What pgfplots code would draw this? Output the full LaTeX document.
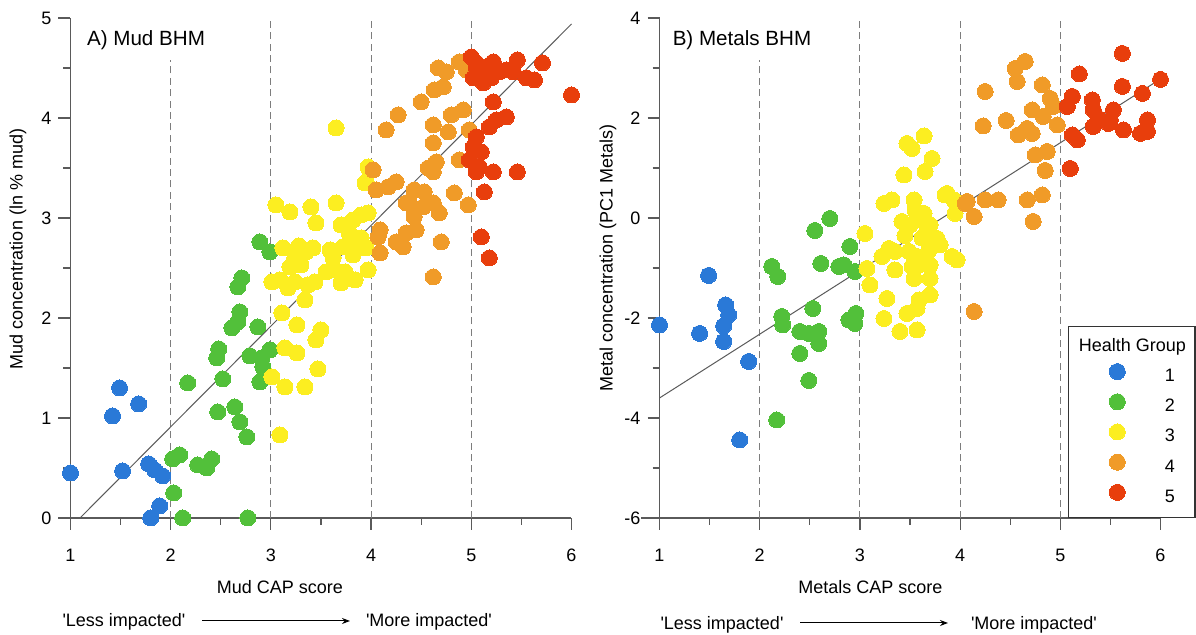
\documentclass[border=0pt]{standalone}
\usepackage{pgfplots}
\pgfplotsset{compat=1.18}
\usepackage{fontspec}
\setmainfont{Liberation Sans}
\usetikzlibrary{arrows.meta}
\definecolor{gA}{RGB}{42,121,215}
\definecolor{gB}{RGB}{82,192,58}
\definecolor{gC}{RGB}{252,238,33}
\definecolor{gD}{RGB}{240,155,40}
\definecolor{gE}{RGB}{232,62,12}
\definecolor{axgray}{RGB}{90,90,90}
\definecolor{dashgray}{RGB}{125,125,125}
\pgfplotsset{
  panel/.style={
    scale only axis, width=250.5pt, height=250pt, xmin=1, xmax=6,
    axis x line*=bottom, axis y line*=left,
    axis line style={line width=0.6pt, color=axgray},
    every tick/.style={line width=0.6pt, color=axgray},
    tick align=outside, major tick length=6pt, minor tick length=3.5pt,
    xtick={1,...,6}, minor x tick num=1,
    tick label style={font=\fontsize{9}{10}\selectfont},
    /pgf/number format/assume math mode=true,
    xticklabel style={yshift=-6pt},
    clip=false,
  },
  grp/.style={only marks, color=#1, mark=*, mark size=4pt, mark options={draw=#1, fill=#1, line width=0pt},
    legend image code/.code={\path (-24pt,-1.5pt) (23.5pt,6.5pt); \draw[##1] plot coordinates {(0pt,2.5pt)};}},
  vdash/.style={dashgray, line width=0.55pt, dash pattern=on 3.5pt off 2.2pt, forget plot},
  reg/.style={axgray, line width=0.5pt, forget plot},
  axext/.style={axgray, line width=0.6pt, forget plot},
}
\begin{document}
\begin{tikzpicture}
\useasboundingbox (0,0) rectangle (598pt,317.5pt);
% ---------------- Panel A ----------------
\begin{axis}[panel, at={(35.25pt,58.5pt)}, anchor=south west,
  ymin=0, ymax=5, ytick={0,...,5}, minor y tick num=1]
\addplot[axext] coordinates {(0.895,0) (1,0)};
\addplot[vdash] coordinates {(2,0) (2,4.58)};
\addplot[vdash] coordinates {(3,0) (3,5)};
\addplot[vdash] coordinates {(4,0) (4,5)};
\addplot[vdash] coordinates {(5,0) (5,5)};
\addplot[grp=gA] table {
1.00 0.45
1.49 1.30
1.68 1.14
1.42 1.02
1.52 0.47
1.78 0.54
1.84 0.48
1.92 0.42
1.89 0.12
1.80 0.00
};
\addplot[grp=gB] table {
2.67 2.31
2.71 2.40
2.69 2.06
2.67 1.96
2.61 1.90
2.87 1.91
2.48 1.69
2.46 1.60
2.79 1.62
2.91 1.60
2.99 1.68
2.92 1.51
2.89 1.36
2.52 1.39
2.17 1.35
2.47 1.06
2.64 1.11
2.69 0.96
2.76 0.81
2.09 0.63
2.02 0.59
2.27 0.53
2.41 0.59
2.36 0.50
2.03 0.25
2.12 0.00
2.77 0.00
2.89 2.76
2.99 2.66
};
\addplot[grp=gC] table {
3.05 3.13
3.19 3.06
3.40 3.11
3.45 2.95
3.65 3.15
3.70 2.93
3.82 2.98
3.90 3.03
3.97 3.05
3.94 3.35
3.12 2.70
3.24 2.60
3.35 2.66
3.42 2.70
3.59 2.68
3.72 2.71
3.84 2.76
3.90 2.80
3.95 2.70
3.82 2.63
3.30 2.53
3.19 2.51
3.01 2.36
3.09 2.38
3.17 2.30
3.24 2.36
3.37 2.33
3.44 2.36
3.55 2.46
3.64 2.48
3.74 2.46
3.70 2.35
3.84 2.38
3.97 2.48
3.34 2.18
3.11 2.05
3.26 1.93
3.50 1.88
3.45 1.78
3.14 1.70
3.26 1.65
3.47 1.49
3.01 1.41
3.14 1.31
3.34 1.31
3.09 0.83
3.65 3.90
3.97 3.51
3.95 3.36
3.28 2.72
3.62 2.60
3.78 2.85
};
\addplot[grp=gD] table {
4.67 4.50
4.75 4.46
4.88 4.56
4.95 4.48
4.63 4.28
4.72 4.31
4.50 4.16
4.27 4.03
4.15 3.88
4.62 3.93
4.77 3.86
4.80 4.03
4.92 4.08
4.98 3.88
4.62 3.75
4.88 3.58
4.02 3.48
4.05 3.28
4.17 3.31
4.25 3.36
4.57 3.50
4.65 3.56
4.62 3.46
4.43 3.28
4.53 3.26
4.83 3.25
4.97 3.13
4.38 3.16
4.52 3.11
4.62 3.15
4.68 3.05
4.43 3.01
4.45 2.88
4.35 2.85
4.25 2.76
4.32 2.71
4.09 2.88
4.09 2.65
4.70 2.76
4.07 2.81
4.62 2.41
4.35 3.15
4.43 3.08
};
\addplot[grp=gE] table {
5.00 4.61
5.05 4.51
5.02 4.40
5.10 4.43
5.15 4.51
5.22 4.56
5.20 4.40
5.28 4.46
5.35 4.48
5.46 4.58
5.42 4.46
5.55 4.40
5.63 4.38
5.71 4.55
6.00 4.23
5.22 4.16
5.25 3.98
5.35 4.01
5.18 3.91
5.05 3.81
5.02 3.71
5.10 3.66
4.98 3.58
5.08 3.51
5.05 3.46
5.22 3.46
5.46 3.46
5.13 3.26
5.10 2.81
5.18 2.60
5.05 4.55
5.12 4.35
};
\addplot[reg] coordinates {(1.095,0) (6,4.94)};
\end{axis}
% ---------------- Panel B ----------------
\begin{axis}[panel, at={(329.75pt,58.5pt)}, anchor=south west,
  ymin=-6, ymax=4, ytick={-6,-4,...,4}, minor y tick num=1,
  legend style={at={(1.07,0)}, anchor=south east, draw=black!80, line width=0.6pt,
    fill=white, inner xsep=0pt, inner ysep=6pt, row sep=4.3pt, column sep=0pt,
    font=\fontsize{9}{10}\selectfont,
    nodes={inner sep=0pt, text height=6.5pt, text depth=1.5pt}},
  legend cell align=left]
\addplot[axext] coordinates {(0.82,-6) (1,-6)};
\addplot[vdash] coordinates {(2,-6) (2,3.16)};
\addplot[vdash] coordinates {(3,-6) (3,4)};
\addplot[vdash] coordinates {(4,-6) (4,4)};
\addplot[vdash] coordinates {(5,-6) (5,4)};
\addlegendimage{empty legend}
\addlegendentry{\hspace*{-43pt}Health Group\hspace*{4.5pt}}
\addplot[grp=gA] table {
1.00 -2.14
1.49 -1.15
1.66 -1.74
1.69 -1.94
1.64 -2.16
1.40 -2.31
1.64 -2.47
1.89 -2.87
1.80 -4.44
};
\addlegendentry{1}
\addplot[grp=gB] table {
2.12 -0.97
2.18 -1.17
2.22 -1.97
2.23 -2.14
2.53 -1.81
2.40 -2.27
2.49 -2.31
2.59 -2.27
2.59 -2.51
2.40 -2.71
2.49 -3.25
2.17 -4.04
2.61 -0.91
2.79 -0.97
2.95 -1.07
2.89 -2.04
2.96 -1.91
2.95 -2.11
2.70 -0.01
2.55 -0.25
2.90 -0.57
2.84 -0.94
};
\addlegendentry{2}
\addplot[grp=gC] table {
3.64 1.64
3.47 1.49
3.52 1.39
3.72 1.19
3.65 0.93
3.44 0.86
3.24 0.29
3.32 0.36
3.54 0.36
3.55 0.16
3.64 0.09
3.85 0.46
3.94 0.36
3.95 0.09
3.87 0.49
3.42 -0.07
3.50 -0.14
3.70 -0.14
3.60 -0.04
3.05 -0.31
3.67 -0.27
3.77 -0.41
3.80 -0.54
3.29 -0.61
3.22 -0.77
3.35 -0.67
3.49 -0.67
3.57 -0.77
3.69 -0.64
3.92 -0.77
3.97 -0.84
3.07 -1.01
3.35 -1.04
3.52 -0.97
3.70 -0.94
3.54 -1.21
3.70 -1.21
3.10 -1.34
3.27 -1.61
3.70 -1.54
3.59 -1.64
3.57 -1.81
3.47 -1.91
3.24 -2.01
3.40 -2.27
3.57 -2.24
3.62 -0.40
3.45 -0.35
3.58 -0.95
};
\addlegendentry{3}
\addplot[grp=gD] table {
4.65 3.13
4.55 2.99
4.57 2.73
4.25 2.53
4.82 2.66
4.90 2.39
4.93 2.23
4.23 1.84
4.46 1.95
4.72 2.16
4.83 2.03
4.97 1.86
4.58 1.66
4.67 1.79
4.72 1.69
4.75 1.26
4.87 1.33
4.85 0.95
4.07 0.33
4.14 0.03
4.25 0.36
4.38 0.36
4.67 0.36
4.82 0.46
4.73 -0.07
4.05 0.29
4.14 -1.87
};
\addlegendentry{4}
\addplot[grp=gE] table {
5.62 3.29
5.19 2.88
5.62 2.63
6.00 2.77
5.82 2.49
5.12 2.43
5.07 2.23
5.32 2.36
5.33 2.16
5.53 2.16
5.38 1.99
5.50 1.96
5.33 1.83
5.48 1.89
5.87 1.96
5.63 1.76
5.80 1.69
5.87 1.73
5.12 1.66
5.17 1.56
5.10 0.99
};
\addlegendentry{5}
\addplot[reg] coordinates {(1,-3.6) (6,2.78)};
\end{axis}
% ---------------- Texts ----------------
\node[font=\fontsize{10.3}{12}\selectfont] at (73pt,297.5pt) {A) Mud BHM};
\node[font=\fontsize{10.3}{12}\selectfont] at (371pt,297.5pt) {B) Metals BHM};
\node[font=\fontsize{9}{10}\selectfont, rotate=90] at (9pt,193pt) {Mud concentration (ln \% mud)};
\node[font=\fontsize{9}{10}\selectfont, rotate=90] at (304pt,188.5pt) {Metal concentration (PC1 Metals)};
\node[font=\fontsize{9}{10}\selectfont] at (140pt,24.2pt) {Mud CAP score};
\node[font=\fontsize{9}{10}\selectfont] at (435.25pt,24.2pt) {Metals CAP score};
\node[font=\fontsize{9}{10}\selectfont] at (62pt,6.6pt) {\textquotesingle Less impacted\textquotesingle};
\node[font=\fontsize{9}{10}\selectfont] at (214.5pt,6.6pt) {\textquotesingle More impacted\textquotesingle};
\draw[-{Stealth[length=4pt,width=3pt]}, line width=0.5pt] (101pt,7pt) -- (175pt,7pt);
\node[font=\fontsize{9}{10}\selectfont] at (361pt,5pt) {\textquotesingle Less impacted\textquotesingle};
\node[font=\fontsize{9}{10}\selectfont] at (517pt,5pt) {\textquotesingle More impacted\textquotesingle};
\draw[-{Stealth[length=4pt,width=3pt]}, line width=0.5pt] (400pt,6pt) -- (474pt,6pt);
\end{tikzpicture}
\end{document}
